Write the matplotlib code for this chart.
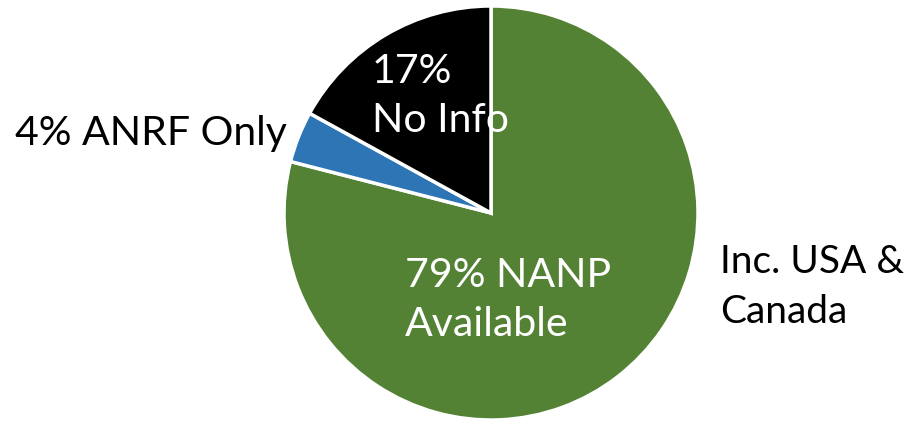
import matplotlib
matplotlib.use("Agg")
import matplotlib.pyplot as plt

categories = ["NANP Available", "ANRF Only", "No Info"]
values = [79, 4, 17]
colors = ["#548235", "#2E75B6", "#000000"]
inside_labels = ["79% NANP\nAvailable", None, "17%\nNo Info"]
outside_left = "4% ANRF Only"
outside_right = "Inc. USA &\nCanada"

plt.rcParams['font.family'] = ['Lato', 'DejaVu Sans']
W, H = 913, 425
fig = plt.figure(figsize=(W / 100, H / 100), dpi=100)
cx, cy, r = 491, 213, 207
ax = fig.add_axes([(cx - r) / W, (H - cy - r) / H, 2 * r / W, 2 * r / H])
ax.pie(values, colors=colors, startangle=90, counterclock=False,
       wedgeprops=dict(edgecolor="white", linewidth=2.5))
ax.set_xlim(-1, 1)
ax.set_ylim(-1, 1)
ax.set_aspect("equal")
ax.axis("off")

fs = 29.5
ls = 1.4
def px(x, y):
    return ((x - cx) / r, (cy - y) / r)

x, y = px(372, 96)
ax.text(x, y, inside_labels[2], color="white", fontsize=fs, ha="left", va="center", linespacing=ls)
x, y = px(405, 300)
ax.text(x, y, inside_labels[0], color="white", fontsize=fs, ha="left", va="center", linespacing=ls)
fig.text(15 / W, 1 - 133 / H, outside_left, color="black", fontsize=fs, ha="left", va="center")
fig.text(720 / W, 1 - 287 / H, outside_right, color="black", fontsize=28, ha="left", va="center", linespacing=1.45)

fig.savefig("out.png", dpi=100, facecolor="white")
